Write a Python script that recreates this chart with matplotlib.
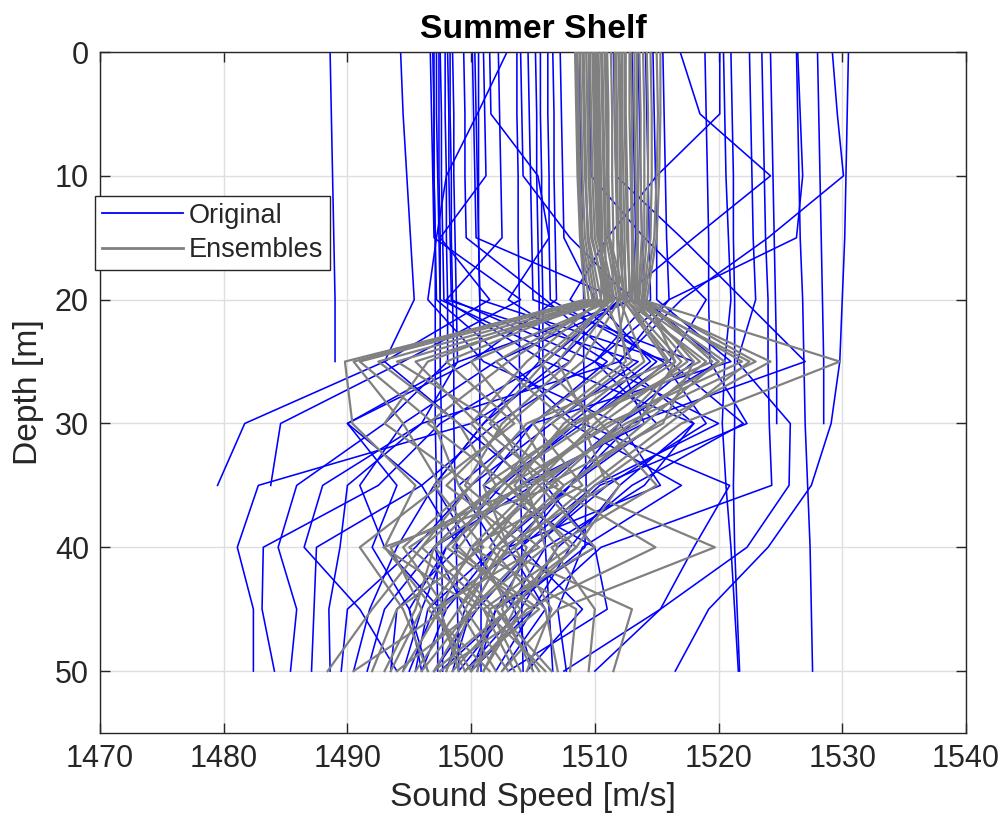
import numpy as np
import matplotlib
matplotlib.use("Agg")
import matplotlib.pyplot as plt
from matplotlib.lines import Line2D

nan = np.nan

# depth levels [m] shared by every profile
depths = [0, 5, 10, 15, 20, 25, 30, 35, 40, 45, 50]

# measured sound speed profiles [m/s], one list per cast
original_profiles = [
    [1488.6, 1488.7, 1488.8, 1488.9, 1489.0, 1489.0, nan, nan, nan, nan, nan],
    [1494.3, 1494.5, 1494.8, 1495.1, 1495.4, 1493.0, 1481.7, 1479.5, nan, nan, nan],
    [1496.7, 1496.8, 1496.9, 1497.0, 1504.0, 1494.5, 1484.6, 1483.8, nan, nan, nan],
    [1497.2, 1497.2, 1497.3, 1497.4, 1497.5, 1508.0, 1500.0, 1482.8, 1481.1, 1482.4, 1482.4],
    [1497.5, 1497.6, 1497.6, 1497.7, 1497.8, 1506.0, 1497.5, 1492.5, 1483.2, 1483.1, 1484.1],
    [1497.9, 1497.9, 1498.0, 1498.0, 1498.1, 1498.1, 1493.0, 1485.9, 1484.4, 1485.9, 1485.4],
    [1498.1, 1498.2, 1498.2, 1498.3, 1498.4, 1510.0, 1502.0, 1496.0, 1487.5, 1487.3, 1487.1],
    [1498.5, 1498.6, 1498.6, 1498.7, 1498.8, 1498.9, 1496.0, 1490.0, 1489.4, 1488.5, 1488.6],
    [1500.1, 1500.2, 1500.3, 1500.4, 1512.0, 1507.0, 1501.0, 1497.0, 1494.0, 1491.8, 1490.5],
    [1500.3, 1500.4, 1500.5, 1500.6, 1500.7, 1516.0, 1509.0, 1502.0, 1497.0, 1493.0, 1491.6],
    [1497.0, 1497.0, 1497.0, 1497.1, 1497.1, 1497.1, 1497.1, 1497.2, 1497.2, 1497.3, 1497.3],
    [1497.4, 1497.4, 1497.4, 1497.5, 1497.5, 1497.5, 1497.6, 1497.6, 1497.6, 1497.7, 1497.7],
    [1500.6, 1500.6, 1500.6, 1500.6, 1500.7, 1500.7, 1500.7, 1500.7, 1500.8, 1500.8, 1500.8],
    [1503.7, 1503.7, 1503.8, 1503.8, 1503.9, 1503.9, 1504.0, 1504.0, 1504.1, 1504.1, 1504.2],
    [1505.6, 1505.6, 1505.7, 1505.7, 1505.8, 1505.8, 1505.9, 1505.9, 1506.0, 1506.3, 1506.6],
    [1501.0, 1501.1, 1501.2, 1497.5, 1501.5, 1493.0, 1499.0, 1505.0, 1497.0, 1499.5, 1498.0],
    [1501.5, 1501.6, 1505.4, 1506.3, 1503.0, 1511.0, 1505.0, 1499.0, 1502.0, 1496.5, 1495.5],
    [1502.9, 1500.5, 1498.0, 1497.2, 1496.5, 1501.0, 1512.0, 1508.0, 1503.0, 1506.0, 1502.5],
    [1504.6, 1504.7, 1504.8, 1504.9, 1505.0, 1518.0, 1512.0, 1506.0, 1510.0, 1502.0, 1500.0],
    [1506.6, 1506.7, 1506.7, 1506.8, 1506.9, 1500.0, 1490.0, 1496.0, 1499.0, 1494.0, 1493.5],
    [1507.2, 1507.3, 1507.4, 1507.5, 1510.0, 1514.5, 1508.0, 1517.0, 1509.0, 1507.0, 1507.7],
    [1508.8, 1508.8, 1508.9, 1509.0, 1509.1, 1509.1, 1509.2, 1509.3, 1509.2, 1503.0, 1499.0],
    [1513.0, 1513.1, 1513.2, 1513.3, 1513.0, 1499.0, 1490.0, 1494.0, 1492.0, 1495.0, 1496.0],
    [1513.5, 1513.6, 1513.7, 1513.8, 1514.0, 1520.0, 1512.0, 1515.3, 1503.0, 1500.0, 1498.5],
    [1514.1, 1514.2, 1514.3, 1514.4, 1514.5, 1510.0, 1520.0, 1510.0, 1504.0, 1497.0, 1495.0],
    [1514.7, 1514.8, 1514.9, 1515.0, 1515.0, 1521.0, 1505.0, 1501.0, 1510.0, 1511.0, 1503.0],
    [1515.5, 1515.6, 1515.7, 1515.8, 1516.0, 1512.0, 1518.0, 1512.0, 1508.0, 1505.0, 1500.0],
    [1516.9, 1518.5, 1524.2, 1518.0, 1512.0, 1506.0, 1518.0, 1514.0, 1506.0, 1503.0, 1497.5],
    [1520.1, 1520.1, 1515.0, 1511.0, 1508.0, 1515.0, 1509.0, 1520.9, 1518.0, 1515.3, 1510.0],
    [1518.9, 1519.0, 1519.1, 1519.2, 1519.2, 1519.3, 1522.3, 1510.4, 1505.0, 1502.0, 1500.5],
    [1521.0, 1521.1, 1521.2, 1521.2, 1521.3, 1521.3, 1521.3, 1521.2, 1521.3, 1521.5, 1521.7],
    [1520.4, 1520.5, 1520.6, 1520.8, 1521.0, 1520.5, 1520.3, 1520.6, 1521.0, 1521.3, 1521.6],
    [1522.5, 1522.6, 1522.7, 1522.8, 1523.0, 1521.5, 1525.8, 1525.7, 1522.3, 1515.3, 1507.5],
    [1523.5, 1523.6, 1523.7, 1523.8, 1524.0, 1524.0, 1524.1, 1524.3, 1510.5, 1505.0, 1502.0],
    [1524.2, 1524.3, 1524.4, 1524.5, 1524.6, 1524.7, 1524.7, nan, nan, nan, nan],
    [1526.4, 1526.6, 1526.8, 1526.3, 1516.0, 1510.0, 1515.0, 1508.0, 1504.0, 1509.0, 1504.5],
    [1526.3, 1526.4, 1526.5, 1526.6, 1526.8, 1526.9, 1527.0, 1527.2, 1527.4, 1527.5, 1527.6],
    [1528.0, 1528.1, 1528.2, 1528.3, 1528.4, 1528.5, 1528.5, nan, nan, nan, nan],
    [1529.2, 1529.6, 1530.1, 1524.0, 1517.0, 1512.0, 1514.0, 1504.0, 1498.0, 1496.0, 1494.5],
    [1530.5, 1530.4, 1530.3, 1530.2, 1530.0, 1529.8, 1529.1, 1527.5, 1524.0, 1519.2, 1516.5],
    [1511.5, 1511.6, 1511.7, 1517.0, 1522.0, 1527.0, 1513.0, 1508.0, 1502.0, 1498.0, 1496.0],
    [1509.6, 1509.6, 1509.7, 1514.0, 1519.0, 1516.0, 1522.0, 1513.0, 1507.0, 1504.0, 1499.5],
    [1502.2, 1502.3, 1502.4, 1502.5, 1498.0, 1513.5, 1506.5, 1500.0, 1495.5, 1490.0, 1489.5],
    [1499.4, 1499.5, 1499.5, 1499.6, 1506.0, 1512.0, 1496.0, 1488.0, 1486.5, 1491.0, 1494.0],
    [1504.0, 1504.1, 1504.2, 1508.0, 1513.0, 1502.0, 1494.5, 1491.0, 1493.0, 1497.5, 1499.0],
    [1496.9, 1497.0, 1497.0, 1497.1, 1497.2, 1503.0, 1508.5, 1502.5, 1498.0, 1495.0, 1496.5],
    [1498.3, 1498.3, 1498.4, 1498.4, 1498.5, 1498.6, 1498.6, 1498.7, 1498.8, 1498.9, 1499.0],
    [1505.2, 1505.3, 1505.3, 1505.4, 1505.5, 1505.5, 1501.0, 1497.0, 1500.0, 1503.5, 1505.0],
    [1506.2, 1506.2, 1506.3, 1506.3, 1506.4, 1515.5, 1519.0, 1511.0, 1505.0, 1500.5, 1497.0],
]

# ensemble members [m/s]
ensemble_profiles = [
    [1508.5, 1508.6, 1508.7, 1508.9, 1509.5, 1489.8, 1490.4, 1495.5, 1493.0, 1497.0, 1499.5],
    [1508.8, 1508.9, 1509.0, 1509.2, 1510.0, 1491.0, 1497.0, 1499.0, 1503.0, 1500.0, 1497.0],
    [1509.0, 1509.1, 1509.2, 1509.5, 1510.5, 1492.5, 1499.0, 1502.0, 1496.0, 1501.5, 1500.5],
    [1509.3, 1509.4, 1509.5, 1509.7, 1511.0, 1494.0, 1502.0, 1505.5, 1500.5, 1503.0, 1498.5],
    [1509.6, 1509.7, 1509.8, 1510.0, 1511.2, 1495.5, 1500.5, 1506.5, 1502.0, 1499.0, 1502.0],
    [1509.8, 1509.9, 1510.0, 1510.2, 1511.5, 1500.0, 1504.0, 1507.0, 1492.9, 1500.5, 1494.0],
    [1510.0, 1510.1, 1510.2, 1510.4, 1511.0, 1502.0, 1508.0, 1503.0, 1499.0, 1504.0, 1501.0],
    [1510.3, 1510.4, 1510.5, 1510.6, 1510.5, 1504.5, 1500.0, 1504.5, 1506.0, 1500.0, 1496.0],
    [1510.5, 1510.6, 1510.7, 1510.8, 1511.0, 1507.0, 1509.5, 1502.0, 1497.0, 1495.5, 1493.0],
    [1510.8, 1510.9, 1511.0, 1511.1, 1512.0, 1509.0, 1503.0, 1498.0, 1504.5, 1502.5, 1505.0],
    [1511.0, 1511.1, 1511.1, 1511.2, 1512.5, 1511.5, 1505.0, 1509.0, 1500.0, 1497.5, 1499.0],
    [1511.6, 1511.6, 1511.7, 1511.8, 1512.0, 1514.0, 1507.5, 1503.5, 1508.0, 1501.0, 1503.5],
    [1511.9, 1512.0, 1512.0, 1512.1, 1512.3, 1515.8, 1510.0, 1505.0, 1501.5, 1506.0, 1507.0],
    [1512.2, 1512.2, 1512.3, 1512.4, 1512.5, 1517.0, 1512.0, 1506.5, 1514.9, 1504.5, 1500.0],
    [1512.5, 1512.5, 1512.6, 1512.7, 1512.8, 1518.5, 1508.5, 1501.0, 1503.0, 1499.0, 1495.5],
    [1512.8, 1512.8, 1512.9, 1513.0, 1513.0, 1520.0, 1514.0, 1508.0, 1519.7, 1507.0, 1502.5],
    [1513.2, 1513.2, 1513.3, 1513.4, 1513.3, 1521.9, 1511.0, 1504.0, 1497.0, 1502.0, 1505.5],
    [1513.6, 1513.7, 1513.7, 1513.8, 1513.5, 1524.2, 1515.0, 1507.5, 1502.0, 1513.0, 1511.5],
    [1514.2, 1514.3, 1514.3, 1514.2, 1513.8, 1529.8, 1517.0, 1510.0, 1505.0, 1500.0, 1498.0],
    [1515.0, 1515.1, 1515.0, 1514.8, 1514.0, 1523.0, 1512.5, 1505.5, 1510.0, 1501.5, 1504.0],
    [1508.6, 1508.7, 1508.8, 1509.0, 1509.8, 1496.5, 1493.0, 1500.0, 1494.5, 1498.0, 1490.5],
    [1509.1, 1509.2, 1509.3, 1509.4, 1510.2, 1498.0, 1503.5, 1497.0, 1501.0, 1494.0, 1492.0],
    [1509.5, 1509.5, 1509.6, 1509.8, 1510.8, 1503.0, 1496.5, 1503.0, 1507.0, 1503.5, 1501.0],
    [1509.9, 1510.0, 1510.1, 1510.3, 1511.3, 1505.5, 1510.5, 1504.0, 1498.0, 1505.0, 1497.5],
    [1510.2, 1510.3, 1510.4, 1510.5, 1511.6, 1508.0, 1502.5, 1499.5, 1505.5, 1497.0, 1500.0],
    [1510.6, 1510.7, 1510.8, 1510.9, 1511.8, 1512.5, 1506.0, 1502.5, 1495.0, 1501.0, 1506.0],
    [1510.9, 1511.0, 1511.0, 1511.1, 1512.2, 1516.5, 1509.0, 1511.0, 1502.5, 1499.5, 1503.0],
    [1511.7, 1511.8, 1511.8, 1511.9, 1512.4, 1519.0, 1513.0, 1505.0, 1500.0, 1508.5, 1508.0],
    [1512.0, 1512.1, 1512.1, 1512.2, 1512.6, 1516.0, 1504.5, 1500.0, 1496.0, 1492.0, 1488.4],
    [1512.4, 1512.4, 1512.5, 1512.6, 1512.9, 1522.5, 1516.0, 1509.5, 1503.5, 1497.5, 1494.5],
    [1512.9, 1513.0, 1513.0, 1513.1, 1513.2, 1517.5, 1510.5, 1515.0, 1506.5, 1510.0, 1509.5],
    [1513.4, 1513.4, 1513.5, 1513.5, 1513.4, 1520.5, 1511.5, 1503.0, 1508.5, 1503.0, 1497.0],
    [1513.9, 1514.0, 1514.0, 1514.0, 1513.6, 1518.0, 1515.5, 1506.0, 1500.5, 1496.5, 1501.5],
    [1514.5, 1514.6, 1514.6, 1514.5, 1513.9, 1519.5, 1508.0, 1502.0, 1498.5, 1505.5, 1499.5],
    [1515.3, 1515.3, 1515.2, 1515.0, 1514.2, 1516.5, 1513.5, 1504.5, 1493.5, 1496.0, 1493.5],
    [1508.4, 1508.5, 1508.6, 1508.8, 1509.2, 1490.5, 1494.5, 1497.5, 1491.0, 1494.5, 1496.5],
    [1511.3, 1511.4, 1511.4, 1511.5, 1511.4, 1506.0, 1501.5, 1507.5, 1503.5, 1506.5, 1504.5],
    [1510.1, 1510.2, 1510.3, 1510.4, 1510.8, 1513.0, 1506.5, 1512.0, 1508.5, 1502.0, 1506.5],
]

blue = "#0000ff"
grey = "#808080"
dark = "#262626"

plt.rcParams["font.family"] = ["Liberation Sans", "DejaVu Sans"]

fig = plt.figure(figsize=(10.08, 8.34), dpi=100)
ax = fig.add_axes([0.0992, 0.1211, 0.8591, 0.8165])

for prof in original_profiles:
    ax.plot(prof, depths, color=blue, lw=1.15, zorder=2)
for prof in ensemble_profiles:
    ax.plot(prof, depths, color=grey, lw=1.6, zorder=3)

ax.set_xlim(1470, 1540)
ax.set_ylim(55, 0)
ax.set_xticks(np.arange(1470, 1541, 10))
ax.set_yticks(np.arange(0, 51, 10))

ax.grid(True, color="#dfdfdf", lw=1.0, zorder=0)
ax.set_axisbelow(True)
ax.tick_params(direction="in", length=7, width=1.0, colors=dark,
               labelsize=22, top=True, right=True, pad=8)
for sp in ax.spines.values():
    sp.set_color(dark)
    sp.set_linewidth(1.0)

ax.set_xlabel("Sound Speed [m/s]", fontsize=24.2, color=dark, labelpad=6)
ax.set_ylabel("Depth [m]", fontsize=24.2, color=dark, labelpad=8)
ax.set_title("Summer Shelf", fontsize=24.2, fontweight="bold", color="black", pad=10)

handles = [Line2D([], [], color=blue, lw=1.3), Line2D([], [], color=grey, lw=2.0)]
leg = ax.legend(handles, ["Original", "Ensembles"], loc="upper left",
                bbox_to_anchor=(95 / 1008, 1 - 196 / 834),
                bbox_transform=fig.transFigure, borderaxespad=0,
                fontsize=19.5, handlelength=3.0, handletextpad=0.2,
                labelspacing=0.32, borderpad=0.25, fancybox=False,
                framealpha=1, edgecolor=dark)
leg.get_frame().set_linewidth(1.0)
for t in leg.get_texts():
    t.set_color(dark)

fig.savefig("out.png", dpi=100)
